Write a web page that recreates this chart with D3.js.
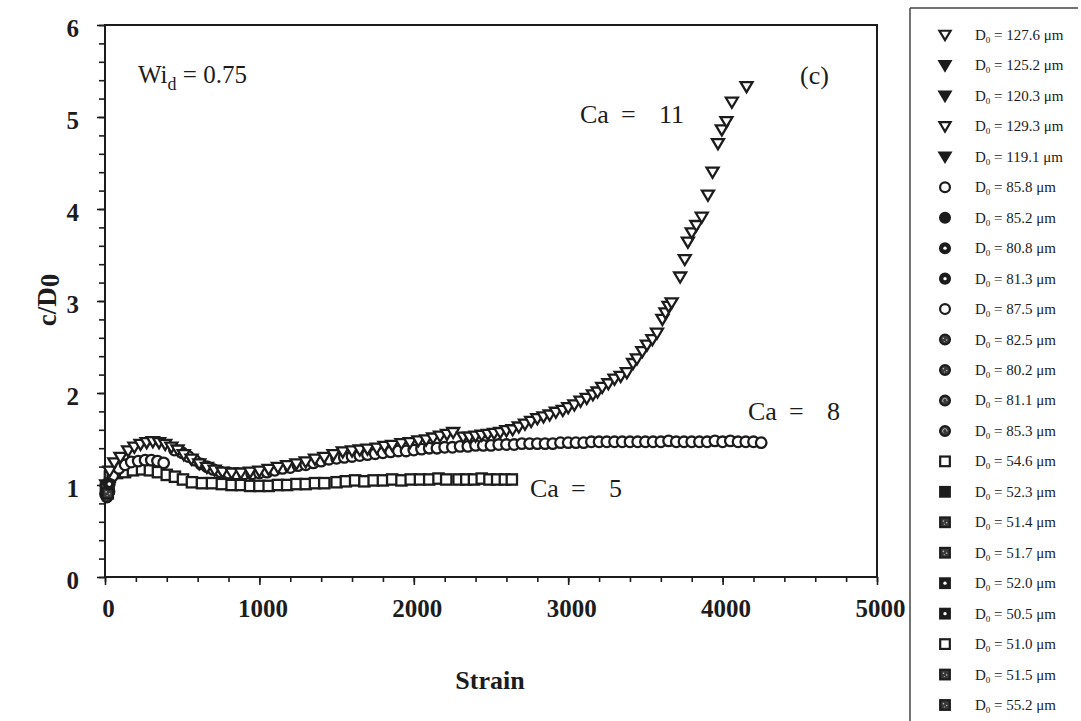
<!DOCTYPE html>
<html>
<head>
<meta charset="utf-8">
<script src="https://cdn.jsdelivr.net/npm/d3@7"></script>
<style>
  body { margin: 0; background: #fff; }
  svg { display: block; }
  svg text { font-family: 'Liberation Serif', 'Times New Roman', serif; }
</style>
</head>
<body>
<div id="chart"></div>
<script>
// Ca = 11, open down triangles
const ca11Strain = [30, 60, 100, 150, 190, 230, 270, 310, 350, 390, 430, 470, 510, 560, 610, 660, 710, 760, 820, 880, 940, 1000, 1060, 1120, 1180, 1240, 1300, 1360, 1420, 1480, 1540, 1600, 1650, 1700, 1760, 1810, 1860, 1920, 1975, 2030, 2080, 2125, 2170, 2215, 2255, 2320, 2360, 2400, 2440, 2480, 2520, 2560, 2600, 2640, 2680, 2720, 2760, 2800, 2840, 2880, 2920, 2965, 3000, 3040, 3080, 3120, 3160, 3190, 3220, 3260, 3300, 3340, 3380, 3420, 3445, 3480, 3510, 3545, 3575, 3610, 3630, 3650, 3670, 3725, 3755, 3775, 3800, 3830, 3865, 3905, 3935, 3970, 3995, 4025, 4060, 4155]
const ca11Ratio = [1.15, 1.24, 1.30, 1.37, 1.41, 1.44, 1.46, 1.47, 1.46, 1.44, 1.41, 1.38, 1.33, 1.28, 1.23, 1.19, 1.16, 1.14, 1.13, 1.13, 1.14, 1.15, 1.17, 1.19, 1.21, 1.23, 1.25, 1.28, 1.30, 1.33, 1.36, 1.37, 1.38, 1.39, 1.40, 1.42, 1.43, 1.45, 1.46, 1.48, 1.49, 1.51, 1.53, 1.55, 1.57, 1.52, 1.52, 1.53, 1.54, 1.55, 1.56, 1.57, 1.59, 1.60, 1.63, 1.66, 1.69, 1.72, 1.74, 1.76, 1.79, 1.81, 1.84, 1.87, 1.91, 1.94, 1.98, 2.01, 2.06, 2.10, 2.15, 2.18, 2.22, 2.32, 2.37, 2.45, 2.52, 2.58, 2.65, 2.80, 2.87, 2.94, 2.98, 3.26, 3.45, 3.64, 3.74, 3.82, 3.91, 4.15, 4.40, 4.71, 4.86, 4.95, 5.16, 5.33]

// Ca = 8, open circles
const ca8Strain = [20, 50, 90, 130, 170, 215, 260, 300, 340, 380, 450, 500, 540, 580, 620, 660, 700, 750, 800, 850, 900, 950, 1000, 1050, 1100, 1150, 1200, 1250, 1300, 1350, 1400, 1450, 1500, 1550, 1600, 1650, 1700, 1750, 1800, 1850, 1900, 1950, 2000, 2050, 2100, 2150, 2200, 2250, 2300, 2350, 2400, 2450, 2500, 2550, 2600, 2650, 2700, 2750, 2800, 2850, 2900, 2950, 3000, 3050, 3100, 3150, 3200, 3250, 3300, 3350, 3400, 3450, 3500, 3550, 3600, 3650, 3700, 3750, 3800, 3850, 3900, 3950, 4000, 4050, 4100, 4150, 4200, 4250]
const ca8Ratio = [1.02, 1.10, 1.18, 1.22, 1.25, 1.26, 1.27, 1.27, 1.26, 1.24, 1.38, 1.35, 1.31, 1.27, 1.23, 1.20, 1.17, 1.14, 1.13, 1.12, 1.12, 1.12, 1.13, 1.14, 1.16, 1.18, 1.19, 1.21, 1.22, 1.24, 1.26, 1.28, 1.29, 1.30, 1.31, 1.32, 1.33, 1.34, 1.35, 1.36, 1.37, 1.37, 1.38, 1.39, 1.40, 1.40, 1.41, 1.41, 1.42, 1.42, 1.43, 1.43, 1.43, 1.44, 1.44, 1.44, 1.45, 1.45, 1.45, 1.45, 1.45, 1.46, 1.46, 1.46, 1.46, 1.47, 1.47, 1.47, 1.47, 1.47, 1.47, 1.47, 1.47, 1.47, 1.47, 1.48, 1.47, 1.47, 1.47, 1.47, 1.47, 1.48, 1.47, 1.48, 1.47, 1.47, 1.47, 1.46]

// Ca = 5, open squares
const ca5Strain = [32, 78, 130, 181, 240, 291, 343, 400, 453, 505, 563, 628, 693, 757, 820, 880, 940, 1000, 1060, 1120, 1180, 1240, 1300, 1360, 1420, 1500, 1560, 1620, 1680, 1740, 1800, 1860, 1920, 1980, 2040, 2100, 2160, 2210, 2290, 2340, 2390, 2440, 2490, 2540, 2590, 2635]
const ca5Ratio = [1.09, 1.13, 1.14, 1.16, 1.17, 1.16, 1.14, 1.11, 1.09, 1.06, 1.03, 1.02, 1.02, 1.01, 1.00, 1.00, 0.99, 0.99, 0.99, 1.00, 1.00, 1.01, 1.01, 1.02, 1.02, 1.03, 1.04, 1.05, 1.04, 1.05, 1.05, 1.06, 1.05, 1.06, 1.06, 1.06, 1.07, 1.06, 1.06, 1.06, 1.06, 1.07, 1.06, 1.06, 1.06, 1.06]

// dark symbols bunched at the start
const startStrain = [4, 10, 16, 22, 8, 14, 20, 26, 6, 12, 18, 28]
const startRatio = [0.90, 0.94, 0.88, 0.96, 1.00, 0.92, 0.98, 0.93, 0.96, 0.87, 0.91, 1.01]
const startShape = ['circle', 'square', 'circle', 'square', 'triangle', 'circle', 'square', 'circle', 'square', 'circle', 'square', 'circle']
const startStyle = ['speckle', 'speckle', 'dot', 'filled', 'filled', 'speckle', 'dot', 'filled', 'speckle', 'speckle', 'speckle', 'dot']

// legend
const legendD0 = ['127.6', '125.2', '120.3', '129.3', '119.1', '85.8', '85.2', '80.8', '81.3', '87.5', '82.5', '80.2', '81.1', '85.3', '54.6', '52.3', '51.4', '51.7', '52.0', '50.5', '51.0', '51.5', '55.2']
const legendShape = ['triangle', 'triangle', 'triangle', 'triangle', 'triangle', 'circle', 'circle', 'circle', 'circle', 'circle', 'circle', 'circle', 'circle', 'circle', 'square', 'square', 'square', 'square', 'square', 'square', 'square', 'square', 'square']
const legendStyle = ['open', 'filled', 'filled', 'open', 'filled', 'open', 'filled', 'dot', 'dot', 'open', 'speckle', 'speckle', 'swirl', 'swirl', 'open', 'filled', 'speckle', 'speckle', 'dot', 'dot', 'open', 'speckle', 'speckle']

const xTicks = [0, 1000, 2000, 3000, 4000, 5000]
const yTicks = [0, 1, 2, 3, 4, 5, 6]

const width = 1081
const height = 721
const ink = '#1c1c1c'
const serif = "'Liberation Serif', 'Times New Roman', serif"

const svg = d3.select('#chart').append('svg')
  .attr('width', width).attr('height', height)

const x = d3.scaleLinear().domain([0, 5000]).range([105, 877])
const y = d3.scaleLinear().domain([0, 6]).range([577, 25])

// frame
svg.append('rect')
  .attr('x', x(0)).attr('y', y(6))
  .attr('width', x(5000) - x(0)).attr('height', y(0) - y(6))
  .attr('fill', 'none').attr('stroke', ink).attr('stroke-width', 2)

// minor + major ticks
svg.append('g').attr('transform', `translate(0,${y(0)})`)
  .call(d3.axisBottom(x).tickValues(d3.range(0, 5001, 200)).tickSize(5).tickFormat(''))
const majorX = svg.append('g').attr('transform', `translate(0,${y(0)})`)
  .call(d3.axisBottom(x).tickValues(xTicks).tickSize(8).tickPadding(14).tickFormat(d3.format('d')))
svg.append('g').attr('transform', `translate(${x(0)},0)`)
  .call(d3.axisLeft(y).tickValues(d3.range(0, 31).map(i => i / 5)).tickSize(6).tickFormat(''))
const majorY = svg.append('g').attr('transform', `translate(${x(0)},0)`)
  .call(d3.axisLeft(y).tickValues(yTicks).tickSize(8).tickPadding(14).tickFormat(d3.format('d')))

svg.selectAll('.domain').remove()
svg.selectAll('.tick line').attr('stroke', ink).attr('stroke-width', 1.6)
svg.selectAll('.tick text')
  .attr('fill', ink)
  .style('font-family', serif)
  .style('font-size', '25px')
  .style('font-weight', 'bold')
majorX.selectAll('.tick text').attr('dx', 3).attr('dy', '0.72em')
majorY.selectAll('.tick text').attr('dy', '0.45em').attr('dx', -4)

// axis titles
svg.append('text')
  .attr('x', 490).attr('y', 689)
  .attr('text-anchor', 'middle')
  .style('font-family', serif)
  .style('font-size', '26px').style('font-weight', 'bold').attr('fill', ink)
  .text('Strain')

const yTitle = svg.append('text')
  .attr('transform', 'translate(56,300) rotate(-90)')
  .attr('text-anchor', 'middle')
  .style('font-family', serif)
  .style('font-size', '27px').style('font-weight', 'bold').attr('fill', ink)
yTitle.append('tspan').text('c/D')
yTitle.append('tspan').attr('dy', 3).text('0')

// symbol drawing
function drawSymbol(g, shape, style, size, sw) {
  const s = size || 1
  const fill = style === 'open' ? '#fff' : (style === 'dot' || style === 'filled' ? ink : '#3a3a3a')
  let el
  if (shape === 'triangle') {
    el = g.append('path').attr('d', `M${-5 * s},${-3.8 * s}L${5 * s},${-3.8 * s}L0,${4.6 * s}Z`)
  } else if (shape === 'circle') {
    el = g.append('circle').attr('r', 4.4 * s)
  } else {
    el = g.append('rect').attr('x', -4.3 * s).attr('y', -4.3 * s).attr('width', 8.6 * s).attr('height', 8.6 * s)
  }
  el.attr('fill', fill).attr('stroke', ink).attr('stroke-width', sw || 2).attr('stroke-linejoin', 'miter')
  if (style === 'dot') {
    g.append('circle').attr('r', 1.5 * s).attr('fill', '#fff')
  } else if (style === 'speckle') {
    g.append('circle').attr('cx', -1.4 * s).attr('cy', -1.2 * s).attr('r', 0.7 * s).attr('fill', '#bbb')
    g.append('circle').attr('cx', 1.5 * s).attr('cy', 0.4 * s).attr('r', 0.7 * s).attr('fill', '#bbb')
    g.append('circle').attr('cx', -0.5 * s).attr('cy', 1.8 * s).attr('r', 0.6 * s).attr('fill', '#999')
  } else if (style === 'swirl') {
    g.append('path')
      .attr('d', `M${-1.5 * s},${1.5 * s}A${2 * s},${2 * s} 0 1 1 ${1.8 * s},${0.6 * s}`)
      .attr('fill', 'none').attr('stroke', '#ccc').attr('stroke-width', 0.9)
  }
}

function plotSeries(strain, ratio, shape) {
  const layer = svg.append('g')
  strain.forEach((d, i) => {
    const g = layer.append('g').attr('transform', `translate(${x(d)},${y(ratio[i])})`)
    drawSymbol(g, shape, 'open', 1.2, 2.3)
  })
}

plotSeries(ca5Strain, ca5Ratio, 'square')
plotSeries(ca8Strain, ca8Ratio, 'circle')
plotSeries(ca11Strain, ca11Ratio, 'triangle')

const startLayer = svg.append('g')
startStrain.forEach((d, i) => {
  const g = startLayer.append('g').attr('transform', `translate(${x(d)},${y(startRatio[i])})`)
  drawSymbol(g, startShape[i], startStyle[i], 1.2, 2.3)
})

// annotations: "Ca", "=", value placed as in the figure
function caNote(val, xPos, yPos) {
  const t = svg.append('text').attr('y', yPos)
    .style('font-family', serif).style('font-size', '26px').attr('fill', ink)
  t.append('tspan').attr('x', xPos).text('Ca')
  t.append('tspan').attr('x', xPos + 41).text('=')
  t.append('tspan').attr('x', xPos + 79).text(val)
}
caNote('11', 580, 123)
caNote('8', 748, 420)
caNote('5', 530, 497)

svg.append('text').attr('x', 800).attr('y', 84)
  .style('font-family', serif).style('font-size', '26px').attr('fill', ink)
  .text('(c)')

const wi = svg.append('text').attr('x', 138).attr('y', 83)
  .style('font-family', serif).style('font-size', '25px').attr('fill', ink)
wi.append('tspan').text('Wi')
wi.append('tspan').attr('dy', 7).style('font-size', '18px').text('d')
wi.append('tspan').attr('dy', -7).text('\u00a0= 0.75')

// legend box
const legend = svg.append('g')
legend.append('line').attr('x1', 910).attr('x2', 910).attr('y1', 8).attr('y2', 721)
  .attr('stroke', '#444').attr('stroke-width', 1.5)
legend.append('line').attr('x1', 910).attr('x2', 1078).attr('y1', 8).attr('y2', 8)
  .attr('stroke', '#444').attr('stroke-width', 1.5)

const rowY = d3.scaleLinear().domain([0, legendD0.length - 1]).range([35, 705])
legendD0.forEach((d, i) => {
  const row = legend.append('g').attr('transform', `translate(0,${rowY(i)})`)
  drawSymbol(row.append('g').attr('transform', 'translate(945,0)'), legendShape[i], legendStyle[i], 1.12, 2.2)
  const t = row.append('text').attr('x', 975).attr('y', 5)
    .style('font-family', serif).style('font-size', '15px').attr('fill', ink)
  t.append('tspan').text('D')
  t.append('tspan').attr('dy', 3).style('font-size', '9px').text('0')
  t.append('tspan').attr('dy', -3).text(`\u00a0= ${d} \u03bcm`)
})
</script>
</body>
</html>
